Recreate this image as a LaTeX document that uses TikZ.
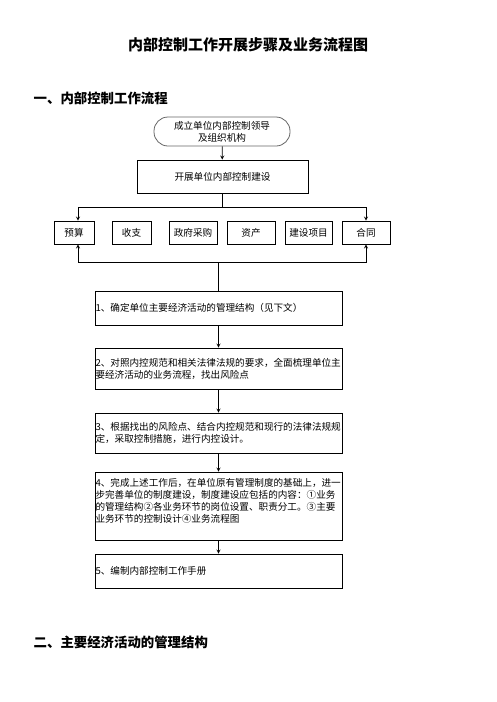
\documentclass[tikz,border=0pt]{standalone}
\usepackage{fontspec}
\setmainfont{Noto Sans CJK SC}
\usetikzlibrary{positioning}
\tikzset{
	txt/.style={font=\fontsize{9.6pt}{12pt}\selectfont},
	stepbox/.style={draw,txt,text width=246pt,inner xsep=0.5pt,inner ysep=2pt,align=left},
	itembox/.style={draw,txt,minimum height=23pt,inner sep=0pt},
	head/.style={anchor=west,font=\fontsize{13.4pt}{15pt}\selectfont\bfseries}
}
\begin{document}
\begin{tikzpicture}[x=1pt,y=-1pt,line width=0.8pt]
			\useasboundingbox (0,0) rectangle (496,702);
			\node[font=\fontsize{15pt}{18pt}\selectfont\bfseries] (title) at (248,45) {内部控制工作开展步骤及业务流程图};
			\node[head] (headA) at (30,98) {一、内部控制工作流程};
			\node[head] (headB) at (30,642) {二、主要经济活动的管理结构};
			\node[draw=black!60,txt,rounded corners=14pt,minimum width=136pt,minimum height=29pt,inner sep=0pt,align=center] (lead) at (222,131.5) {成立单位内部控制领导\\及组织机构};
			\node[draw,txt,minimum width=171pt,minimum height=33pt] (build) at (222.5,176.5) {开展单位内部控制建设};
			\node[itembox,minimum width=40pt] (yusuan) at (74,232.5) {预算};
			\node[itembox,minimum width=39pt] (shouzhi) at (131.5,232.5) {收支};
			\node[itembox,minimum width=48pt] (caigou) at (193,232.5) {政府采购};
			\node[itembox,minimum width=48pt] (zichan) at (251,232.5) {资产};
			\node[itembox,minimum width=47pt] (xiangmu) at (308.5,232.5) {建设项目};
			\node[itembox,minimum width=48pt] (hetong) at (366,232.5) {合同};
			\node[stepbox,minimum height=34pt] (s1) at (218.5,308) {1、确定单位主要经济活动的管理结构（见下文）};
			\node[stepbox,minimum height=41pt] (s2) at (218.5,368.5) {2、对照内控规范和相关法律法规的要求，全面梳理单位主\\要经济活动的业务流程，找出风险点};
			\node[stepbox,minimum height=40pt] (s3) at (218.5,433) {3、根据找出的风险点、结合内控规范和现行的法律法规规\\定，采取控制措施，进行内控设计。};
			\node[stepbox,minimum height=68pt] (s4) at (218.5,506) {4、完成上述工作后，在单位原有管理制度的基础上，进一\\步完善单位的制度建设，制度建设应包括的内容：①业务\\的管理结构②各业务环节的岗位设置、职责分工。③主要\\业务环节的控制设计④业务流程图\\\mbox{}};
			\node[stepbox,minimum height=34pt] (s5) at (218.5,571) {5、编制内部控制工作手册};
			\coordinate (fork) at (222.5,207);
			\coordinate (join) at (218.5,262);
			\draw[-stealth] (lead) -- (build);
			\draw (build) -- (fork);
			\draw[-stealth] (fork) -| ([xshift=4pt]yusuan.north);
			\draw[-stealth] (fork) -| (hetong.north);
			\draw[-stealth] (join) -| ([xshift=4pt]yusuan.south);
			\draw[-stealth] (join) -| (hetong.south);
			\draw (join) -- (s1);
			\draw[-stealth] (s1) -- (s2);
			\draw[-stealth] (s2) -- (s3);
			\draw[-stealth] (s3) -- (s4);
			\draw[-stealth] (s4) -- (s5);
			\end{tikzpicture}
\end{document}
